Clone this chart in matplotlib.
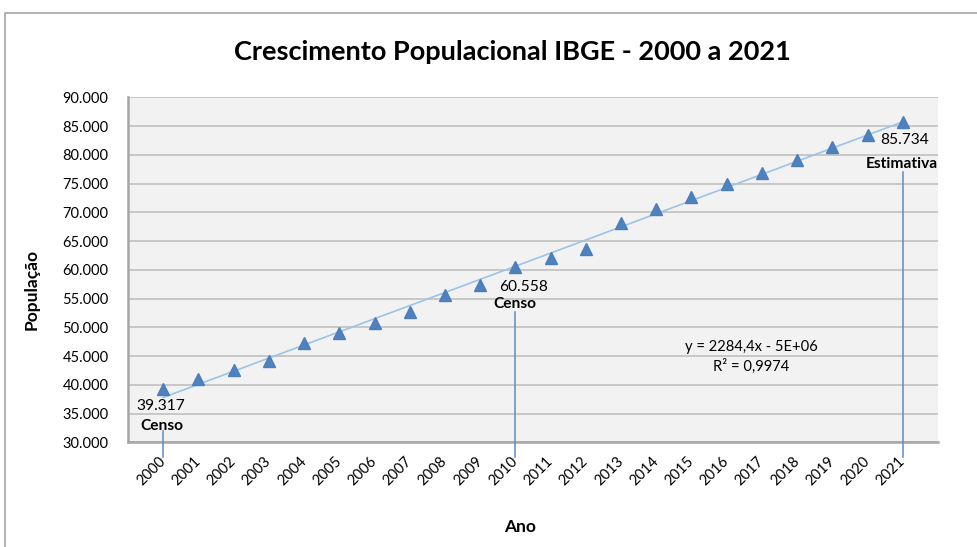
import numpy as np
import matplotlib
matplotlib.use("Agg")
import matplotlib.pyplot as plt
from matplotlib.patches import Rectangle
from matplotlib.ticker import FuncFormatter, MultipleLocator

# =========================
# dados
# =========================
anos = [2000, 2001, 2002, 2003, 2004, 2005, 2006, 2007, 2008, 2009, 2010,
        2011, 2012, 2013, 2014, 2015, 2016, 2017, 2018, 2019, 2020, 2021]
populacao = [39317, 41000, 42600, 44100, 47200, 49000, 50700, 52700, 55600, 57400, 60558,
             62100, 63700, 68100, 70600, 72700, 74900, 76900, 79100, 81300, 83500, 85734]

# rótulos destacados
destaques_anos = [2000, 2010, 2021]
destaques_txt = ["Censo", "Censo", "Estimativa"]
equacao = "y = 2284,4x - 5E+06"
r2 = "R² = 0,9974"

plt.rcParams['font.family'] = ['Lato', 'DejaVu Sans']

W, H = 978, 547
fig = plt.figure(figsize=(W / 100, H / 100), dpi=100)
ax = fig.add_axes([128 / W, 1 - 442.3 / H, 810 / W, 345 / H])

# borda do gráfico
fig.patches.append(Rectangle((5 / W, -0.1), 1.2, 1.1 - 13 / H, transform=fig.transFigure,
                             fill=False, edgecolor="#A6A6A6", linewidth=1.2, zorder=0))

ax.set_facecolor("#F2F2F2")
ax.set_xlim(1999, 2022)
ax.set_ylim(30000, 90000)
ax.yaxis.set_major_locator(MultipleLocator(5000))
ax.yaxis.set_major_formatter(FuncFormatter(lambda v, p: f"{int(v):,}".replace(",", ".")))
ax.grid(axis="y", color="#C4C4C4", linewidth=1.3)
ax.set_axisbelow(True)
for s in ["top", "right"]:
    ax.spines[s].set_visible(False)
for s in ["left", "bottom"]:
    ax.spines[s].set_color("#A6A6A6")
    ax.spines[s].set_linewidth(1.8)

ax.set_xticks(anos)
ax.set_xticklabels([str(a) for a in anos], rotation=45, ha="right", va="center",
                   rotation_mode="anchor", fontsize=10.5)
ax.tick_params(axis="x", length=0, pad=12)
ax.tick_params(axis="y", length=0, pad=14, labelsize=10.5)

# linha de tendência
coef = np.polyfit(anos, populacao, 1)
xt = np.array([anos[0], anos[-1]])
ax.plot(xt, np.polyval(coef, xt), color="#9DC3E6", linewidth=1.2, zorder=2)

ax.plot(anos, populacao, linestyle="none", marker="^", markersize=9,
        color="#4F81BD", markeredgecolor="#4A7EBB", zorder=3)

# rótulos de dados
ppu = 345 / 60000  # pixels por unidade
offs_val = [(-2, -17), (8, -20), (2, -18)]
offs_txt = [(-1, -37), (-1, -37), (-1, -42)]
gap_linha = [42, 45, 50]
for i, ano in enumerate(destaques_anos):
    v = populacao[anos.index(ano)]
    ax.annotate(f"{v:,}".replace(",", "."), (ano, v), xytext=offs_val[i],
                textcoords="offset pixels", ha="center", va="center", fontsize=11.2)
    ax.annotate(destaques_txt[i], (ano, v), xytext=offs_txt[i],
                textcoords="offset pixels", ha="center", va="center",
                fontsize=11.2, fontweight="bold")
    ax.plot([ano, ano], [v - gap_linha[i] / ppu, 30000 - 15 / ppu], color="#5B8CC8",
            linewidth=1.1, clip_on=False, zorder=3)

ax.text(2016.7, 46574, equacao, ha="center", va="center", fontsize=10.6)
ax.text(2016.7, 43148, r2, ha="center", va="center", fontsize=10.6)

fig.text(512 / W, 1 - 52 / H, "Crescimento Populacional IBGE - 2000 a 2021",
         ha="center", va="center", fontsize=19.5, fontweight="bold")
fig.text(520 / W, 1 - 527 / H, "Ano", ha="center", va="center", fontsize=12.5, fontweight="bold")
fig.text(32 / W, 1 - 290 / H, "População", ha="center", va="center", rotation=90,
         fontsize=12.5, fontweight="bold")

fig.savefig("out.png", dpi=100)
